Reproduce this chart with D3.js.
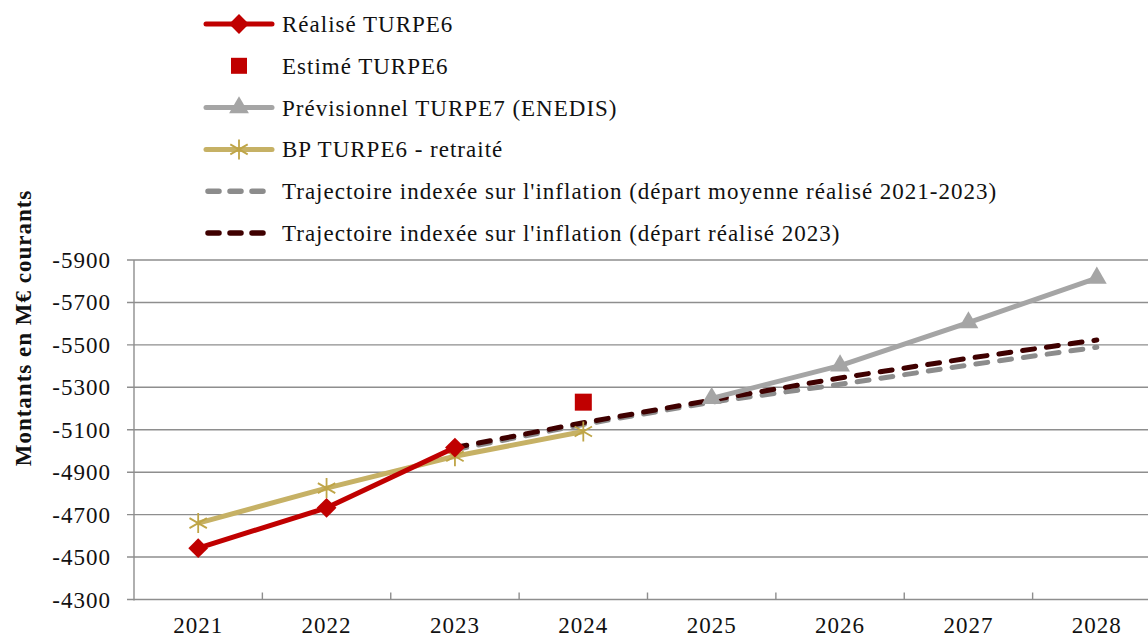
<!DOCTYPE html>
<html><head><meta charset="utf-8">
<script src="https://cdn.jsdelivr.net/npm/d3@7"></script>
<style>body{margin:0;background:#fff}svg{display:block}</style>
</head><body><svg id="c" width="1148" height="639" font-family="'Liberation Serif', 'Times New Roman', serif"></svg>
<script>
const years = ["2021","2022","2023","2024","2025","2026","2027","2028"];
const yTicks = [-5900,-5700,-5500,-5300,-5100,-4900,-4700,-4500,-4300];
const realiseYears = ["2021","2022","2023"];
const realise = [-4542,-4732,-5016];
const estimeYears = ["2024"];
const estime = [-5230];
const previsYears = ["2025","2026","2027","2028"];
const previs = [-5248,-5402,-5605,-5815];
const bpYears = ["2021","2022","2023","2024"];
const bp = [-4660,-4825,-4975,-5092];
const inflYears = ["2023","2024","2025","2026","2027","2028"];
const inflMoy = [-5006,-5125,-5230,-5314,-5405,-5489];
const inflReal = [-5016,-5133,-5240,-5344,-5437,-5523];
const legendLabels = ["Réalisé TURPE6","Estimé TURPE6","Prévisionnel TURPE7 (ENEDIS)","BP TURPE6 - retraité","Trajectoire indexée sur l'inflation (départ moyenne réalisé 2021-2023)","Trajectoire indexée sur l'inflation (départ réalisé 2023)"];

const C = {red:"#C00000", gray:"#A5A5A5", gold:"#C6B165", goldM:"#BFA547", dgray:"#8C8C8C", dark:"#3F0000", grid:"#8E8E8E"};
const FS = 23, LS = "1px";
const svg = d3.select("#c");
const x = d3.scaleBand().domain(years).range([134,1161]).padding(0);
const y = d3.scaleLinear().domain([-4300,-5900]).range([599.5,260]);
const cx = d => x(d) + x.bandwidth()/2;

// grid
svg.append("g").selectAll("line").data(yTicks).join("line")
  .attr("x1",127).attr("x2",1148).attr("y1",d=>y(d)).attr("y2",d=>y(d))
  .attr("stroke",C.grid).attr("stroke-width",1.4);
// y axis line
svg.append("line").attr("x1",134).attr("x2",134).attr("y1",y(-5900)).attr("y2",y(-4300)+1)
  .attr("stroke",C.grid).attr("stroke-width",1.4);
// x ticks (band boundaries, inward)
svg.append("g").selectAll("line").data(years.slice(1)).join("line")
  .attr("x1",d=>x(d)).attr("x2",d=>x(d)).attr("y1",y(-4300)).attr("y2",y(-4300)-7)
  .attr("stroke",C.grid).attr("stroke-width",1.4);
// y labels
svg.append("g").selectAll("text").data(yTicks).join("text")
  .attr("x",111).attr("y",d=>y(d)).attr("dy","0.35em").attr("text-anchor","end")
  .attr("font-size",FS).attr("letter-spacing",LS).attr("fill","#111").text(d=>String(d));
// x labels
svg.append("g").selectAll("text").data(years).join("text")
  .attr("x",d=>cx(d)).attr("y",633).attr("text-anchor","middle")
  .attr("font-size",FS).attr("letter-spacing",LS).attr("fill","#111").text(d=>d);
// y title
svg.append("text").attr("transform","translate(31,328) rotate(-90)").attr("text-anchor","middle")
  .attr("font-size",FS).attr("letter-spacing",LS).attr("font-weight","bold").attr("fill","#111").text("Montants en M€ courants");

const line = d3.line().x(d=>cx(d[0])).y(d=>y(d[1]));
const zip = (a,b)=>a.map((k,i)=>[k,b[i]]);

// dashed inflation lines
svg.append("path").attr("d",line(zip(inflYears,inflMoy))).attr("fill","none")
  .attr("stroke",C.dgray).attr("stroke-width",5).attr("stroke-dasharray","12,12").attr("stroke-linecap","round");
svg.append("path").attr("d",line(zip(inflYears,inflReal))).attr("fill","none")
  .attr("stroke",C.dark).attr("stroke-width",5).attr("stroke-dasharray","12,12").attr("stroke-linecap","round");

// BP
svg.append("path").attr("d",line(zip(bpYears,bp))).attr("fill","none").attr("stroke",C.gold).attr("stroke-width",5).attr("stroke-linejoin","round");
function star(g, px, py, s, col){
  const r=s/2;
  g.append("path").attr("d",`M${px},${py-r}L${px},${py+r}M${px-r*0.87},${py-r*0.5}L${px+r*0.87},${py+r*0.5}M${px-r*0.87},${py+r*0.5}L${px+r*0.87},${py-r*0.5}`)
   .attr("stroke",col).attr("stroke-width",1.8).attr("fill","none");
}
const gStar = svg.append("g");
zip(bpYears,bp).forEach(d=>star(gStar,cx(d[0]),y(d[1]),20,C.goldM));

// Réalisé
svg.append("path").attr("d",line(zip(realiseYears,realise))).attr("fill","none").attr("stroke",C.red).attr("stroke-width",5).attr("stroke-linejoin","round");
const diamond = d3.symbol().type(d3.symbolDiamond2).size(250);
svg.append("g").selectAll("path").data(zip(realiseYears,realise)).join("path")
  .attr("d",diamond).attr("transform",d=>`translate(${cx(d[0])},${y(d[1])})`).attr("fill",C.red);

// Estimé
svg.append("g").selectAll("rect").data(zip(estimeYears,estime)).join("rect")
  .attr("x",d=>cx(d[0])-8.5).attr("y",d=>y(d[1])-8.5).attr("width",17).attr("height",17).attr("fill",C.red);

// Prévisionnel
svg.append("path").attr("d",line(zip(previsYears,previs))).attr("fill","none").attr("stroke",C.gray).attr("stroke-width",5).attr("stroke-linejoin","round");
const tri = d3.symbol().type(d3.symbolTriangle).size(170);
svg.append("g").selectAll("path").data(zip(previsYears,previs)).join("path")
  .attr("d",tri).attr("transform",d=>`translate(${cx(d[0])},${y(d[1])})`).attr("fill",C.gray);

// legend
const lg = svg.append("g");
const rowY = i => 24 + i*41.8;
const lx1=206, lx2=272, lm=239;
legendLabels.forEach((t,i)=>{
  lg.append("text").attr("x",282).attr("y",rowY(i)).attr("dy","0.35em").attr("font-size",FS).attr("letter-spacing",LS).attr("fill","#111").text(t);
});
// row 0
lg.append("line").attr("x1",lx1).attr("x2",lx2).attr("y1",rowY(0)).attr("y2",rowY(0)).attr("stroke",C.red).attr("stroke-width",5).attr("stroke-linecap","round");
lg.append("path").attr("d",diamond).attr("transform",`translate(${lm},${rowY(0)})`).attr("fill",C.red);
// row 1
lg.append("rect").attr("x",lm-8).attr("y",rowY(1)-8).attr("width",16).attr("height",16).attr("fill",C.red);
// row 2
lg.append("line").attr("x1",lx1).attr("x2",lx2).attr("y1",rowY(2)).attr("y2",rowY(2)).attr("stroke",C.gray).attr("stroke-width",5).attr("stroke-linecap","round");
lg.append("path").attr("d",tri).attr("transform",`translate(${lm},${rowY(2)})`).attr("fill",C.gray);
// row 3
lg.append("line").attr("x1",lx1).attr("x2",lx2).attr("y1",rowY(3)).attr("y2",rowY(3)).attr("stroke",C.gold).attr("stroke-width",5).attr("stroke-linecap","round");
star(lg,lm,rowY(3),20,C.goldM);
// rows 4,5 dashed
[[4,C.dgray],[5,C.dark]].forEach(([i,col])=>{
  lg.append("line").attr("x1",lx1+2).attr("x2",lx2-2).attr("y1",rowY(i)).attr("y2",rowY(i)).attr("stroke",col).attr("stroke-width",5.5)
    .attr("stroke-dasharray","11,11").attr("stroke-linecap","round");
});
</script></body></html>
